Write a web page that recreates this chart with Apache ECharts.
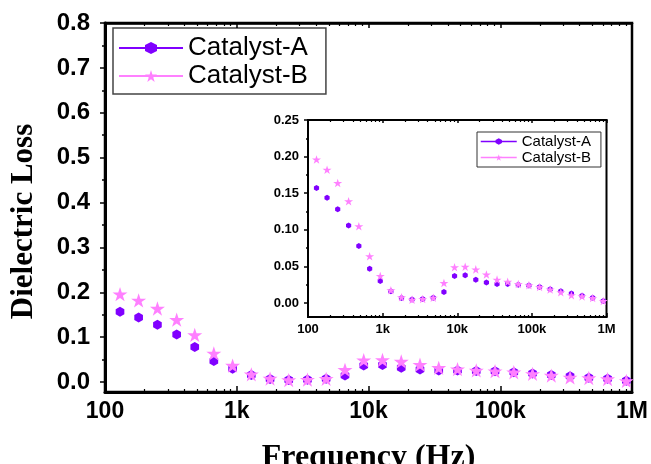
<!DOCTYPE html>
<html>
<head>
<meta charset="utf-8">
<script src="https://cdn.jsdelivr.net/npm/echarts@6/dist/echarts.min.js"></script>
<style>
  html, body { margin: 0; padding: 0; background: #fff; }
  #chart { width: 651px; height: 464px; }
</style>
</head>
<body>
<div id="chart"></div>
<script>
// frequency (Hz) of every measured point; the first one sits just left of the axis
const freqs = [95, 130, 180, 250, 350, 480, 670, 930, 1290, 1790, 2480, 3440, 4770, 6630,
  9200, 12770, 17720, 24590, 34130, 47380, 65760, 91270, 126700, 175800, 244100,
  338700, 470200, 652600, 905700];

const lossA = [0.166, 0.157, 0.144, 0.128, 0.106, 0.078, 0.047, 0.030, 0.016, 0.007, 0.005,
  0.0055, 0.0074, 0.015, 0.037, 0.038, 0.032, 0.028, 0.026, 0.026, 0.025, 0.024, 0.022,
  0.019, 0.016, 0.013, 0.010, 0.0074, 0.003];

const lossB = [0.206, 0.196, 0.182, 0.164, 0.139, 0.105, 0.064, 0.037, 0.0175, 0.008, 0.0047,
  0.0055, 0.0074, 0.0275, 0.049, 0.0495, 0.046, 0.039, 0.032, 0.029, 0.026, 0.0245, 0.022,
  0.0185, 0.0147, 0.0106, 0.0092, 0.0069, 0.0028];

const seriesNames = ['Catalyst-A', 'Catalyst-B'];
const xTickLabels = ['100', '1k', '10k', '100k', '1M'];
const mainYTicks = [0, 0.1, 0.2, 0.3, 0.4, 0.5, 0.6, 0.7, 0.8];
const mainYMinor = [0.05, 0.15, 0.25, 0.35, 0.45, 0.55, 0.65, 0.75];
const insetYTicks = [0, 0.05, 0.1, 0.15, 0.2, 0.25];
const insetYMinor = [0.025, 0.075, 0.125, 0.175, 0.225];

const colA = '#8000ff';
const colB = '#ff80ff';
const hexagon = 'path://M0,-1L0.866,-0.5L0.866,0.5L0,1L-0.866,0.5L-0.866,-0.5Z';
const star = 'path://M0,-1L0.2245,-0.309L0.951,-0.309L0.3633,0.118L0.588,0.809L0,0.382L-0.588,0.809L-0.3633,0.118L-0.951,-0.309L-0.2245,-0.309Z';

const sans = 'Liberation Sans, Arial, sans-serif';
const serif = 'Liberation Serif, Times New Roman, serif';

// minor ticks of the log axes, in log10 units (2..9 of every decade)
const minorLog = [];
for (let d = 2; d < 6; d++) {
  for (let m = 2; m < 10; m++) minorLog.push(d + Math.log10(m));
}

const pairs = (ys) => freqs.map((f, i) => [f, ys[i]]);

function logAxis(grid, pos, fontSize, tickLen, lineW, margin) {
  return {
    type: 'log', logBase: 10, gridIndex: grid, position: pos, min: 100, max: 1e6, z: 5,
    axisLine: { show: true, onZero: false, lineStyle: { color: '#000', width: lineW } },
    axisTick: { show: true, inside: true, length: tickLen, lineStyle: { color: '#000', width: 1.5 } },
    axisLabel: {
      show: fontSize > 0, fontSize: fontSize, fontWeight: 'bold', fontFamily: sans,
      color: '#000', margin: margin,
      formatter: (v) => xTickLabels[Math.round(Math.log10(v)) - 2]
    },
    splitLine: { show: false }
  };
}

function minorX(grid, pos, len) {
  return {
    type: 'value', gridIndex: grid, position: pos, min: 2, max: 6, z: 5,
    axisLine: { show: false, onZero: false },
    axisLabel: { show: false },
    splitLine: { show: false },
    axisTick: { show: true, inside: true, length: len, customValues: minorLog,
      lineStyle: { color: '#000', width: 1.2 } }
  };
}

function valueY(grid, min, max, ticks, len, lineW, label) {
  return {
    type: 'value', gridIndex: grid, position: 'left', min: min, max: max, z: 5,
    axisLine: { show: lineW > 0, onZero: false, lineStyle: { color: '#000', width: lineW } },
    axisTick: { show: true, length: len, customValues: ticks, lineStyle: { color: '#000', width: 1.5 } },
    axisLabel: label ? Object.assign({ customValues: ticks, fontWeight: 'bold', fontFamily: sans, color: '#000' }, label)
                     : { show: false },
    splitLine: { show: false }
  };
}

function series(name, grid, ys, symbol, size, color) {
  return {
    name: name, type: 'line',
    xAxisIndex: grid === 0 ? 0 : 4, yAxisIndex: grid === 0 ? 0 : 2,
    data: pairs(ys), symbol: symbol, symbolSize: size, symbolKeepAspect: true,
    showAllSymbol: true, clip: true, z: 3,
    lineStyle: { color: color, width: 2, opacity: 0 },
    itemStyle: { color: color }
  };
}

const chart = echarts.init(document.getElementById('chart'), null, { renderer: 'canvas' });

const mainY = valueY(0, -0.022, 0.8, mainYTicks, 5, 3,
  { fontSize: 24, margin: 15, formatter: (v) => v.toFixed(1) });
mainY.name = 'Dielectric Loss';
mainY.nameLocation = 'middle';
mainY.nameGap = 66;
mainY.nameTextStyle = { fontFamily: serif, fontWeight: 'bold', fontSize: 31, color: '#000',
  padding: [0, 28, 0, 0] };

const mainX = logAxis(0, 'bottom', 23, 6, 3, 8);
mainX.name = 'Frequency (Hz)';
mainX.nameLocation = 'middle';
mainX.nameGap = 50;
mainX.nameTextStyle = { fontFamily: serif, fontWeight: 'bold', fontSize: 32, color: '#000' };

chart.setOption({
  animation: false,
  backgroundColor: '#fff',
  grid: [
    { left: 105, top: 23, width: 527, height: 369, show: true, outerBoundsMode: 'none',
      borderColor: '#000', borderWidth: 2.5, backgroundColor: 'transparent' },
    { left: 308, top: 120, width: 298.5, height: 197, show: true, outerBoundsMode: 'none',
      borderColor: '#000', borderWidth: 2, backgroundColor: '#fff' }
  ],
  xAxis: [
    mainX,
    minorX(0, 'bottom', 3),
    logAxis(0, 'top', 0, 5, 2.5, 8),
    minorX(0, 'top', 3),
    logAxis(1, 'bottom', 13, 4, 2, 6),
    minorX(1, 'bottom', 2),
    logAxis(1, 'top', 0, 3, 2, 6),
    minorX(1, 'top', 2)
  ],
  yAxis: [
    mainY,
    valueY(0, -0.022, 0.8, mainYMinor, 3, 0, null),
    valueY(1, -0.019, 0.25, insetYTicks, 4, 2,
      { fontSize: 13, margin: 9, formatter: (v) => v.toFixed(2) }),
    valueY(1, -0.019, 0.25, insetYMinor, 2, 0, null)
  ],
  legend: [
    { left: 113, top: 28, orient: 'vertical', data: seriesNames, selectedMode: false,
      itemWidth: 64, itemHeight: 15, itemGap: 2, padding: [7, 18, 5, 5],
      borderColor: '#444', borderWidth: 1.5, backgroundColor: '#fff',
      textStyle: { fontSize: 26, fontFamily: sans, color: '#000' },
      lineStyle: { opacity: 1, width: 2 } },
    { left: 477, top: 132, orient: 'vertical', data: seriesNames, selectedMode: false,
      itemWidth: 36, itemHeight: 8, itemGap: 1, padding: [2, 10, 2, 3],
      borderColor: '#333', borderWidth: 1, backgroundColor: '#fff',
      textStyle: { fontSize: 15, fontFamily: sans, color: '#000' },
      lineStyle: { opacity: 1, width: 1.5 } }
  ],
  series: [
    series(seriesNames[0], 0, lossA, hexagon, 10, colA),
    series(seriesNames[1], 0, lossB, star, 15, colB),
    series(seriesNames[0], 1, lossA, hexagon, 6, colA),
    series(seriesNames[1], 1, lossB, star, 9, colB)
  ]
});
</script>
</body>
</html>
